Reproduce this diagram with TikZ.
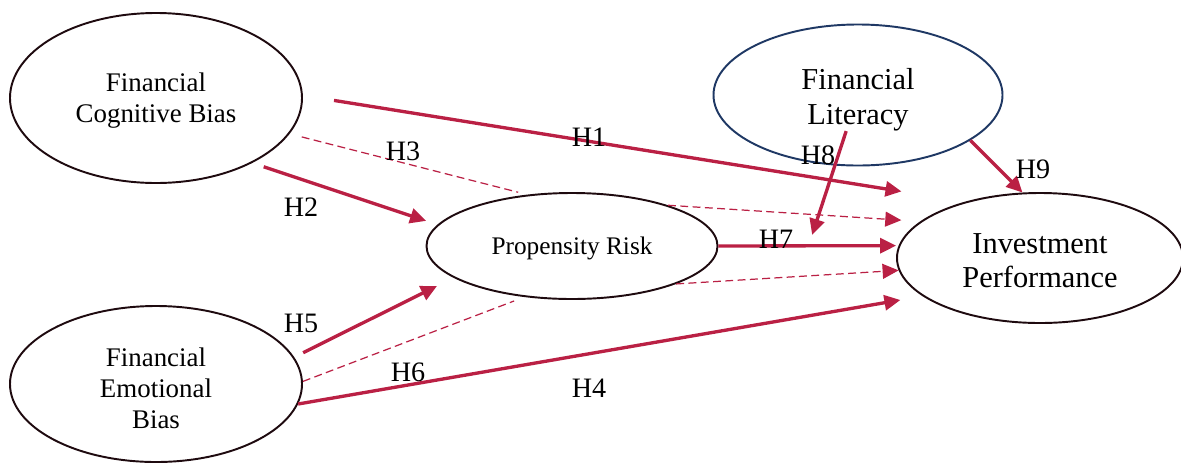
\documentclass[tikz,border=0pt]{standalone}
\usepackage{fontspec}
\setmainfont{Liberation Serif}
\usetikzlibrary{arrows.meta}
\usetikzlibrary{shapes.geometric}
\usetikzlibrary{calc}

\definecolor{pathred}{RGB}{186,32,68}
\definecolor{litblue}{RGB}{31,56,100}
\definecolor{outline}{RGB}{30,10,15}
\newcommand{\padtop}[1]{\rule{0pt}{#1}}

\begin{document}
\begin{tikzpicture}[x=0.2mm,y=-0.2mm,
  construct/.style={ellipse,draw=outline,line width=1.1pt,inner sep=0pt,align=center},
  hyp/.style={pathred,line width=1.9pt,-{Triangle[length=3.2mm,width=3mm]}},
  med/.style={pathred,line width=0.7pt,dash pattern=on 4.5pt off 2.5pt},
  medarrow/.style={med,-{Triangle[length=3.2mm,width=3mm]}},
  hlabel/.style={font=\fontsize{16}{18}\selectfont}]
\useasboundingbox (0,0) rectangle (1181,462);

\node[construct,minimum width=5.84cm,minimum height=3.4cm,font=\fontsize{15.3}{17.6}\selectfont] (cog) at (156,98) {\padtop{13.9pt}Financial\\Cognitive Bias};
\node[construct,minimum width=5.84cm,minimum height=3.12cm,font=\fontsize{15.3}{17.6}\selectfont] (emo) at (156,384) {\padtop{15.6pt}Financial\\Emotional\\Bias};
\node[construct,draw=litblue,minimum width=5.78cm,minimum height=2.82cm,font=\fontsize{17.3}{19.8}\selectfont] (lit) at (858,95) {\padtop{17.5pt}Financial\\Literacy};
\node[construct,minimum width=5.82cm,minimum height=2.12cm,font=\fontsize{14.4}{17}\selectfont] (prop) at (572,246) {\padtop{13.2pt}Propensity Risk};
\node[construct,minimum width=5.72cm,minimum height=2.6cm,font=\fontsize{17.3}{19.8}\selectfont] (inv) at (1040,258) {\padtop{14.3pt}Investment\\Performance};

% direct paths
\draw[hyp,shorten <=0.63cm,shorten >=1.29cm] (cog.1) -- (inv.143);
\draw[hyp,shorten <=0.24cm,shorten >=0.24cm] (cog.-34) -- (prop.171);
\draw[hyp,shorten >=0.45cm] (emo.-8) -- (inv.198);
\draw[hyp,shorten <=0.2cm,shorten >=0.37cm] (emo.11) -- (prop.195);
\draw[hyp,shorten >=0.05cm] (prop.0) -- (inv.175);

% mediation
\draw[med,shorten <=0.25cm,shorten >=0.19cm] (cog.-15) -- (prop.131);
\draw[medarrow,shorten >=0.38cm] (prop.23) -- (inv.163);
\draw[med,shorten >=0.22cm] (emo.1) -- (prop.227);
\draw[medarrow] (prop.-20) -- (inv.185);

% moderation
\coordinate (mod) at ($(prop.0)!0.5!(inv.175)$);
\draw[hyp,shorten <=0.76cm,shorten >=0.23cm] (lit.center) -- (mod);
\draw[hyp] (lit.-22) -- (inv.105);

\node[hlabel] (h1) at (589,137) {H1};
\node[hlabel] (h2) at (301,207) {H2};
\node[hlabel] (h3) at (403,151) {H3};
\node[hlabel] (h4) at (589,388) {H4};
\node[hlabel] (h5) at (301,323) {H5};
\node[hlabel] (h6) at (408,372) {H6};
\node[hlabel] (h7) at (776,239) {H7};
\node[hlabel] (h8) at (818,155) {H8};
\node[hlabel] (h9) at (1033,169) {H9};

\end{tikzpicture}
\end{document}
